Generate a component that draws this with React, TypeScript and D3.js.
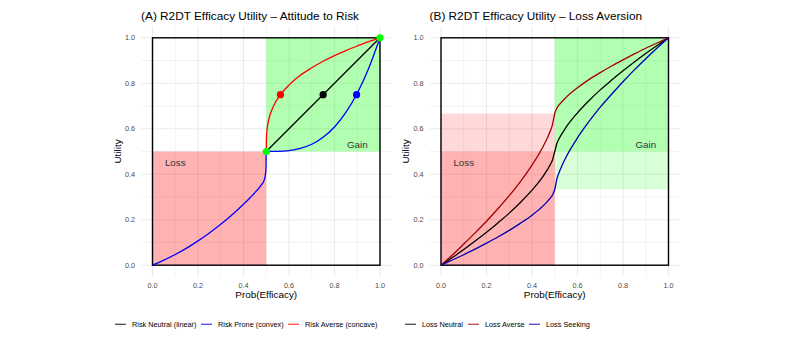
import React from "react";
import * as d3 from "d3";

// panel A: attitude to risk
const xAverseA = [0.5, 0.501, 0.505, 0.51, 0.52, 0.54, 0.5625, 0.6, 0.65, 0.7, 0.75, 0.8, 0.85, 0.9, 0.95, 1];
const yAverseA = [0.5, 0.563, 0.608, 0.636, 0.671, 0.716, 0.75, 0.792, 0.835, 0.868, 0.897, 0.922, 0.944, 0.964, 0.983, 1];
const xProneA = [0, 0.05, 0.1, 0.15, 0.2, 0.25, 0.3, 0.35, 0.4, 0.43, 0.46, 0.48, 0.49, 0.496, 0.499, 0.5, 0.55, 0.6, 0.65, 0.7, 0.75, 0.8, 0.85, 0.9, 0.95, 1];
const yProneA = [0, 0.022, 0.047, 0.075, 0.107, 0.142, 0.18, 0.222, 0.268, 0.298, 0.33, 0.355, 0.372, 0.395, 0.43, 0.5, 0.5005, 0.504, 0.514, 0.532, 0.563, 0.608, 0.672, 0.756, 0.865, 1];
const xNeutralA = [0.5, 1];
const yNeutralA = [0.5, 1];
const anchorPts = [[0.5, 0.5], [1, 1]];
const midPts = [[0.5625, 0.75, "averse"], [0.75, 0.75, "neutral"], [0.897, 0.75, "prone"]];

// panel B: loss aversion
const xB = [0, 0.05, 0.1, 0.15, 0.2, 0.25, 0.3, 0.35, 0.4, 0.45, 0.48, 0.49, 0.5, 0.51, 0.52, 0.55, 0.6, 0.65, 0.7, 0.75, 0.8, 0.85, 0.9, 0.95, 1];
const yNeutralB = [0, 0.034, 0.069, 0.106, 0.145, 0.186, 0.229, 0.277, 0.33, 0.393, 0.442, 0.463, 0.5, 0.537, 0.558, 0.607, 0.67, 0.723, 0.771, 0.814, 0.855, 0.894, 0.931, 0.966, 1];
const yAverseB = [0, 0.045, 0.093, 0.142, 0.193, 0.248, 0.306, 0.369, 0.44, 0.524, 0.589, 0.618, 0.667, 0.692, 0.706, 0.738, 0.78, 0.816, 0.847, 0.876, 0.903, 0.929, 0.954, 0.977, 1];
const ySeekingB = [0, 0.023, 0.046, 0.071, 0.097, 0.124, 0.153, 0.185, 0.22, 0.262, 0.295, 0.309, 0.333, 0.382, 0.41, 0.476, 0.56, 0.631, 0.695, 0.752, 0.807, 0.859, 0.908, 0.955, 1];

// shaded zones [x0, x1, y0, y1, kind]
const zonesA = [[0.5, 1, 0.5, 1, "gain"], [0, 0.5, 0, 0.5, "loss"]];
const zonesB = [
  [0.5, 1, 0.5, 1, "gain"], [0.5, 1, 1 / 3, 0.5, "gainLight"],
  [0, 0.5, 0, 0.5, "loss"], [0, 0.5, 0.5, 2 / 3, "lossLight"],
];

const legendA = ["Risk Neutral (linear)", "Risk Prone (convex)", "Risk Averse (concave)"];
const legendB = ["Loss Neutral", "Loss Averse", "Loss Seeking"];

const zoneFill = {
  gain: "rgba(0,255,0,0.3)", gainLight: "rgba(0,255,0,0.15)",
  loss: "rgba(255,0,0,0.3)", lossLight: "rgba(255,0,0,0.15)",
};
const colA = { neutral: "#000000", prone: "#0000FF", averse: "#FF0000" };
const colB = { neutral: "#000000", averse: "#A00000", seeking: "#0000B0" };

const FONT = "'Liberation Sans', Arial, Helvetica, sans-serif";
const zip = (xs, ys) => xs.map((x, i) => [x, ys[i]]);

function Panel({ left, title, zones, series, dots, legend, legendX, legendCols }) {
  const x = d3.scaleLinear().domain([0, 1]).range([left, left + 227.5]);
  const y = d3.scaleLinear().domain([0, 1]).range([265.2, 37.8]);
  const pad = 11.4;
  const line = d3.line().x(d => x(d[0])).y(d => y(d[1])).curve(d3.curveMonotoneX);
  const ticks = x.ticks(5);
  const minor = d3.range(0.1, 1, 0.2);

  return (
    <g>
      <text x={left - pad} y={20} fontSize={11.8} fill="#000">{title}</text>
      {minor.map(t => (
        <g key={"m" + t}>
          <line x1={x(t)} x2={x(t)} y1={y(0) + pad} y2={y(1) - pad} stroke="#ebebeb" strokeWidth={0.6} />
          <line y1={y(t)} y2={y(t)} x1={x(0) - pad} x2={x(1) + pad} stroke="#ebebeb" strokeWidth={0.6} />
        </g>
      ))}
      {ticks.map(t => (
        <g key={"g" + t}>
          <line x1={x(t)} x2={x(t)} y1={y(0) + pad} y2={y(1) - pad} stroke="#ebebeb" strokeWidth={1.1} />
          <line y1={y(t)} y2={y(t)} x1={x(0) - pad} x2={x(1) + pad} stroke="#ebebeb" strokeWidth={1.1} />
          <text x={x(t)} y={287.5} fontSize={7.3} fill="#4d4d4d" textAnchor="middle">{d3.format(".1f")(t)}</text>
          <text x={x(0) - pad - 6} y={y(t) + 2.6} fontSize={7.3} fill="#4d4d4d" textAnchor="end">{d3.format(".1f")(t)}</text>
        </g>
      ))}
      {zones.map((z, i) => (
        <rect key={"z" + i} x={x(z[0])} y={y(z[3])} width={x(z[1]) - x(z[0])} height={y(z[2]) - y(z[3])} fill={zoneFill[z[4]]} />
      ))}
      <rect x={x(0)} y={y(1)} width={x(1) - x(0)} height={y(0) - y(1)} fill="none" stroke="#000" strokeWidth={1.4} />
      {series.map((s, i) => (
        <path key={"s" + i} d={line(s.pts)} fill="none" stroke={s.color} strokeWidth={1.3} />
      ))}
      {dots.map((d, i) => (
        <circle key={"d" + i} cx={x(d[0])} cy={y(d[1])} r={3.6} fill={d[2]} />
      ))}
      <text x={x(0.1)} y={y(0.45) + 3.5} fontSize={9.8} fill="#333" textAnchor="middle">Loss</text>
      <text x={x(0.9)} y={y(0.53) + 3.5} fontSize={9.8} fill="#333" textAnchor="middle">Gain</text>
      <text x={x(0.5)} y={298} fontSize={9.9} fill="#000" textAnchor="middle">Prob(Efficacy)</text>
      <text transform={`translate(${x(0) - 32},${y(0.5)}) rotate(-90)`} fontSize={9.9} fill="#000" textAnchor="middle">Utility</text>
      {legend.map((lab, i) => (
        <g key={"l" + i}>
          <line x1={legendX[i]} x2={legendX[i] + 11} y1={324.3} y2={324.3} stroke={legendCols[i]} strokeWidth={1.3} opacity={0.7} />
          <text x={legendX[i] + 17} y={326.9} fontSize={7.3} fill="#000">{lab}</text>
        </g>
      ))}
    </g>
  );
}

export default function App() {
  const seriesA = [
    { pts: zip(xNeutralA, yNeutralA), color: colA.neutral },
    { pts: zip(xProneA, yProneA), color: colA.prone },
    { pts: zip(xAverseA, yAverseA), color: colA.averse },
  ];
  const dotsA = [
    ...anchorPts.map(p => [p[0], p[1], "#00FF00"]),
    ...midPts.map(p => [p[0], p[1], colA[p[2]]]),
  ];
  const seriesB = [
    { pts: zip(xB, yNeutralB), color: colB.neutral },
    { pts: zip(xB, yAverseB), color: colB.averse },
    { pts: zip(xB, ySeekingB), color: colB.seeking },
  ];
  return (
    <svg width={793} height={347} style={{ position: "absolute", left: 0, top: 0, background: "#fff" }} fontFamily={FONT}>
      <rect width={793} height={347} fill="#fff" />
      <Panel left={152.5} title="(A) R2DT Efficacy Utility – Attitude to Risk" zones={zonesA} series={seriesA} dots={dotsA}
        legend={legendA} legendX={[115, 201, 288]} legendCols={[colA.neutral, colA.prone, colA.averse]} />
      <Panel left={441} title="(B) R2DT Efficacy Utility – Loss Aversion" zones={zonesB} series={seriesB} dots={[]}
        legend={legendB} legendX={[405, 468, 529]} legendCols={[colB.neutral, colB.averse, colB.seeking]} />
    </svg>
  );
}
